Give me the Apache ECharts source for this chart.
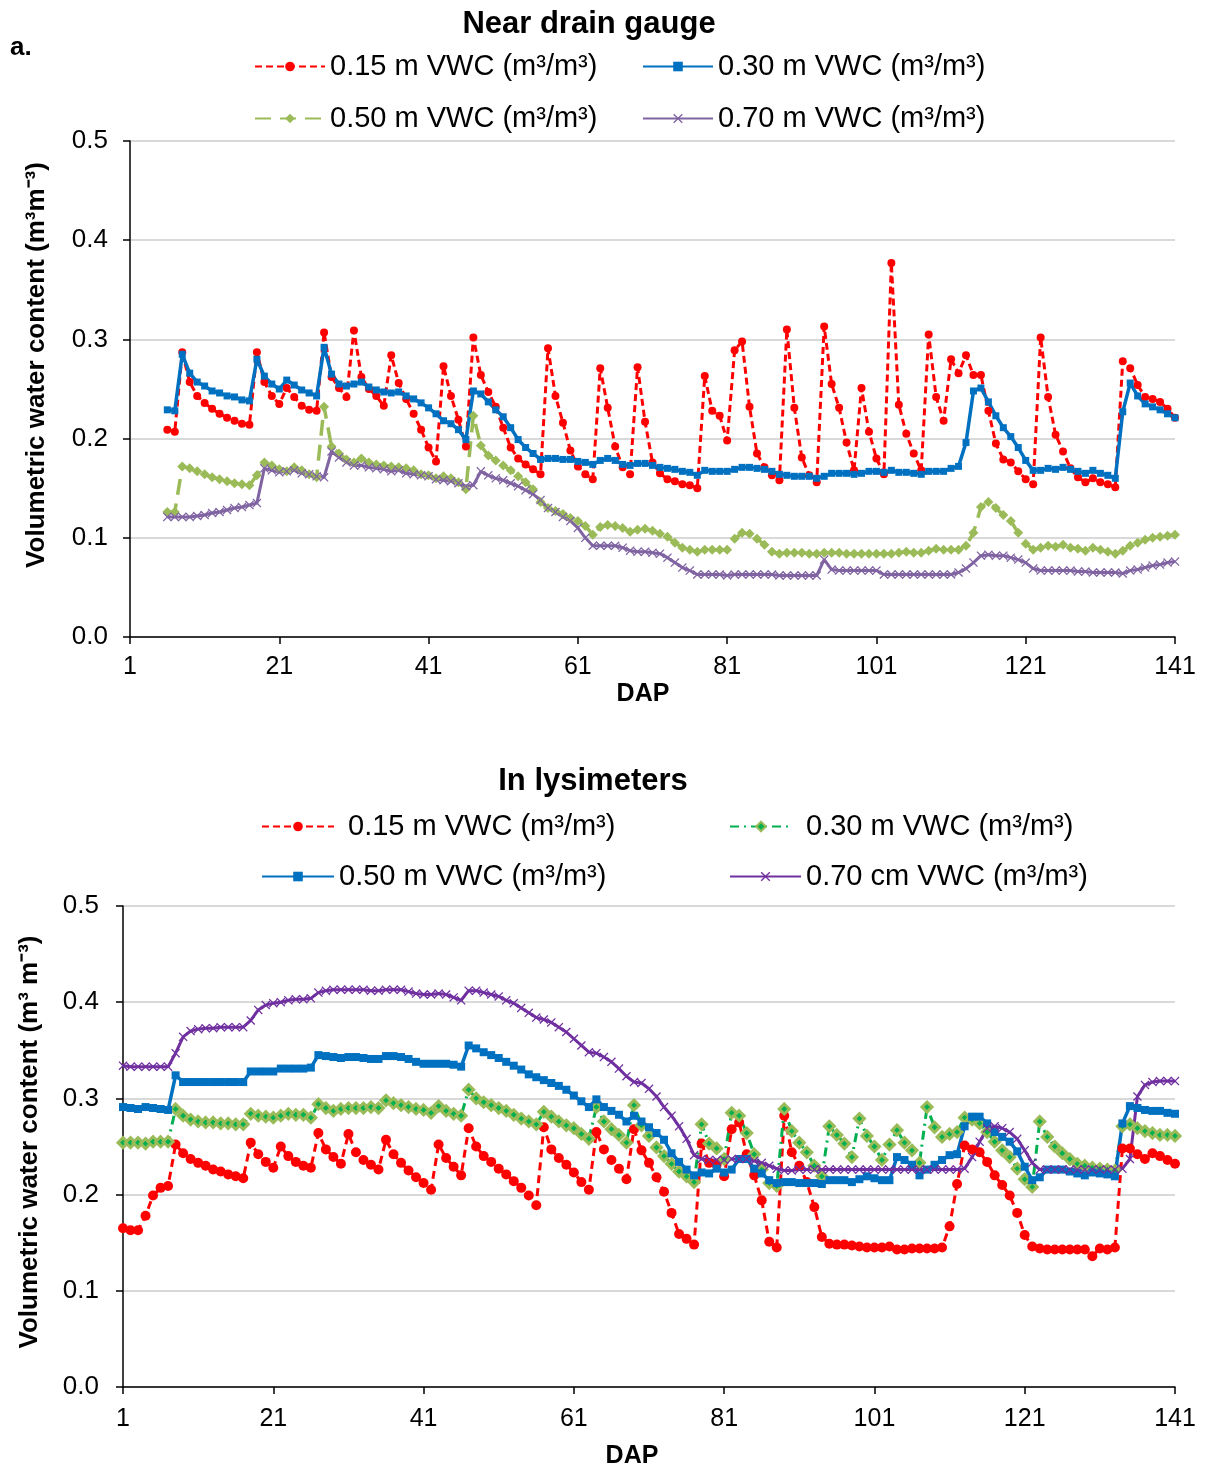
<!DOCTYPE html>
<html>
<head>
<meta charset="utf-8">
<script src="https://cdn.jsdelivr.net/npm/echarts@6/dist/echarts.min.js"></script>
<style>
html,body{margin:0;padding:0;background:#fff;}
#chart{width:1205px;height:1470px;}
</style>
</head>
<body>
<div id="chart"></div>
<script>
// DAP categories 1..141
const days = Array.from({length: 141}, (_, i) => String(i + 1));
const yTicks = [0, 0.1, 0.2, 0.3, 0.4, 0.5];

// ---- Near drain gauge (values for DAP 6 .. 141) ----
const topStartDAP = 6;
const top15 = [0.209,0.207,0.287,0.257,0.243,0.236,0.230,0.225,0.221,0.218,0.215,0.214,0.287,0.257,0.243,0.235,0.251,0.242,0.233,0.229,0.228,0.307,0.262,0.251,0.242,0.309,0.262,0.250,0.243,0.233,0.284,0.256,0.240,0.225,0.209,0.191,0.177,0.273,0.243,0.219,0.192,0.302,0.264,0.247,0.232,0.211,0.191,0.180,0.174,0.169,0.164,0.291,0.243,0.216,0.188,0.172,0.164,0.159,0.271,0.231,0.192,0.171,0.164,0.272,0.217,0.176,0.165,0.159,0.157,0.154,0.153,0.150,0.263,0.228,0.223,0.198,0.289,0.298,0.232,0.185,0.171,0.163,0.158,0.310,0.231,0.181,0.163,0.156,0.313,0.255,0.231,0.196,0.168,0.251,0.207,0.180,0.164,0.377,0.234,0.205,0.185,0.168,0.305,0.242,0.218,0.280,0.266,0.284,0.264,0.264,0.228,0.195,0.179,0.176,0.167,0.159,0.154,0.302,0.242,0.204,0.187,0.170,0.161,0.156,0.160,0.156,0.154,0.151,0.278,0.271,0.254,0.242,0.240,0.237,0.230,0.221];
const top30 = [0.229,0.228,0.285,0.266,0.257,0.253,0.248,0.246,0.243,0.242,0.239,0.238,0.280,0.263,0.255,0.250,0.259,0.254,0.249,0.246,0.243,0.292,0.265,0.255,0.253,0.255,0.257,0.252,0.249,0.247,0.246,0.247,0.243,0.240,0.236,0.231,0.225,0.218,0.215,0.209,0.199,0.248,0.245,0.237,0.229,0.222,0.211,0.199,0.191,0.185,0.179,0.180,0.180,0.179,0.179,0.177,0.176,0.174,0.178,0.180,0.178,0.174,0.173,0.175,0.175,0.173,0.171,0.170,0.169,0.167,0.166,0.163,0.168,0.167,0.167,0.167,0.169,0.171,0.171,0.170,0.169,0.167,0.164,0.163,0.162,0.162,0.162,0.160,0.162,0.165,0.165,0.165,0.164,0.165,0.167,0.167,0.166,0.168,0.166,0.166,0.165,0.164,0.167,0.167,0.167,0.170,0.172,0.196,0.248,0.251,0.237,0.223,0.211,0.202,0.191,0.178,0.168,0.168,0.170,0.169,0.171,0.169,0.167,0.165,0.168,0.165,0.163,0.160,0.227,0.256,0.243,0.235,0.232,0.229,0.225,0.221];
const top50 = [0.126,0.126,0.172,0.170,0.167,0.164,0.161,0.159,0.157,0.155,0.154,0.153,0.163,0.176,0.173,0.169,0.167,0.171,0.168,0.164,0.161,0.232,0.192,0.185,0.179,0.176,0.180,0.176,0.174,0.173,0.172,0.171,0.170,0.168,0.164,0.163,0.160,0.162,0.160,0.156,0.149,0.223,0.193,0.183,0.178,0.173,0.168,0.162,0.156,0.149,0.136,0.130,0.127,0.124,0.120,0.117,0.112,0.103,0.111,0.113,0.112,0.110,0.106,0.108,0.109,0.107,0.104,0.101,0.095,0.090,0.088,0.086,0.088,0.088,0.088,0.088,0.099,0.105,0.104,0.099,0.093,0.086,0.084,0.085,0.085,0.085,0.084,0.084,0.085,0.085,0.085,0.084,0.084,0.084,0.084,0.084,0.084,0.084,0.085,0.086,0.085,0.085,0.087,0.089,0.088,0.088,0.088,0.092,0.105,0.131,0.136,0.130,0.123,0.117,0.105,0.094,0.088,0.090,0.092,0.091,0.093,0.090,0.089,0.087,0.090,0.088,0.086,0.084,0.087,0.092,0.095,0.098,0.100,0.101,0.102,0.103];
const top70 = [0.121,0.121,0.121,0.121,0.122,0.123,0.125,0.126,0.128,0.130,0.131,0.133,0.135,0.170,0.168,0.166,0.167,0.168,0.165,0.164,0.162,0.161,0.187,0.181,0.176,0.173,0.173,0.171,0.170,0.169,0.167,0.168,0.165,0.164,0.163,0.162,0.159,0.158,0.157,0.155,0.152,0.153,0.167,0.163,0.160,0.158,0.155,0.152,0.148,0.144,0.138,0.130,0.126,0.121,0.117,0.110,0.100,0.092,0.092,0.092,0.092,0.090,0.087,0.086,0.086,0.085,0.084,0.080,0.075,0.070,0.067,0.063,0.063,0.063,0.063,0.062,0.063,0.063,0.063,0.063,0.063,0.063,0.062,0.062,0.062,0.062,0.062,0.062,0.078,0.068,0.067,0.067,0.067,0.067,0.067,0.067,0.063,0.063,0.063,0.063,0.063,0.063,0.063,0.063,0.063,0.063,0.065,0.069,0.075,0.082,0.083,0.082,0.082,0.080,0.078,0.075,0.069,0.067,0.067,0.067,0.067,0.067,0.066,0.066,0.065,0.065,0.065,0.065,0.064,0.067,0.068,0.070,0.072,0.073,0.075,0.076];

// ---- In lysimeters (values for DAP 1 .. 141) ----
const lys15 = [0.165,0.163,0.163,0.178,0.199,0.207,0.209,0.252,0.243,0.237,0.233,0.230,0.226,0.224,0.221,0.219,0.217,0.254,0.242,0.234,0.228,0.250,0.240,0.234,0.230,0.228,0.264,0.247,0.239,0.232,0.263,0.244,0.236,0.231,0.226,0.257,0.242,0.233,0.225,0.218,0.212,0.205,0.252,0.238,0.229,0.220,0.269,0.250,0.240,0.234,0.227,0.221,0.214,0.207,0.199,0.189,0.270,0.247,0.238,0.231,0.223,0.213,0.205,0.265,0.247,0.236,0.227,0.216,0.268,0.246,0.233,0.218,0.203,0.181,0.159,0.154,0.148,0.253,0.233,0.231,0.219,0.268,0.275,0.242,0.220,0.194,0.151,0.145,0.282,0.244,0.230,0.213,0.187,0.156,0.149,0.148,0.148,0.147,0.146,0.145,0.145,0.145,0.146,0.143,0.143,0.144,0.144,0.144,0.144,0.145,0.167,0.211,0.251,0.247,0.244,0.234,0.220,0.210,0.199,0.181,0.158,0.146,0.144,0.143,0.143,0.143,0.143,0.143,0.143,0.136,0.144,0.143,0.145,0.248,0.248,0.242,0.237,0.243,0.240,0.236,0.232];
const lys30 = [0.254,0.254,0.254,0.253,0.255,0.255,0.255,0.289,0.282,0.278,0.276,0.275,0.275,0.274,0.274,0.273,0.273,0.284,0.282,0.281,0.280,0.282,0.284,0.283,0.283,0.280,0.294,0.290,0.287,0.289,0.290,0.290,0.290,0.291,0.290,0.298,0.295,0.293,0.291,0.289,0.288,0.285,0.292,0.287,0.284,0.282,0.309,0.300,0.296,0.293,0.290,0.287,0.283,0.279,0.276,0.273,0.286,0.281,0.276,0.272,0.269,0.263,0.258,0.291,0.276,0.268,0.262,0.254,0.293,0.272,0.261,0.249,0.240,0.232,0.224,0.219,0.213,0.273,0.253,0.248,0.237,0.285,0.282,0.264,0.242,0.226,0.212,0.209,0.289,0.266,0.254,0.244,0.230,0.219,0.271,0.262,0.253,0.239,0.279,0.261,0.250,0.236,0.252,0.267,0.254,0.246,0.233,0.291,0.270,0.260,0.263,0.265,0.280,0.278,0.274,0.265,0.255,0.246,0.239,0.227,0.216,0.208,0.276,0.260,0.250,0.243,0.237,0.232,0.230,0.228,0.227,0.226,0.225,0.271,0.273,0.269,0.266,0.264,0.262,0.262,0.261];
const lys50 = [0.291,0.290,0.289,0.291,0.290,0.289,0.288,0.324,0.317,0.317,0.317,0.317,0.317,0.317,0.317,0.317,0.317,0.328,0.328,0.328,0.328,0.331,0.331,0.331,0.331,0.332,0.345,0.344,0.343,0.342,0.343,0.343,0.342,0.341,0.341,0.344,0.344,0.343,0.341,0.338,0.336,0.336,0.336,0.336,0.335,0.333,0.355,0.352,0.348,0.345,0.342,0.338,0.334,0.330,0.325,0.322,0.319,0.316,0.313,0.309,0.303,0.297,0.291,0.299,0.291,0.287,0.283,0.276,0.282,0.276,0.270,0.264,0.257,0.243,0.234,0.226,0.220,0.223,0.222,0.227,0.223,0.226,0.237,0.237,0.227,0.222,0.215,0.212,0.213,0.213,0.212,0.212,0.212,0.211,0.215,0.215,0.215,0.213,0.216,0.219,0.217,0.215,0.215,0.239,0.236,0.231,0.220,0.226,0.231,0.236,0.241,0.242,0.271,0.281,0.281,0.274,0.265,0.260,0.255,0.245,0.229,0.215,0.218,0.226,0.226,0.226,0.224,0.222,0.220,0.223,0.222,0.221,0.219,0.274,0.292,0.290,0.288,0.287,0.287,0.285,0.284];
const lys70 = [0.334,0.333,0.333,0.333,0.333,0.333,0.333,0.347,0.364,0.370,0.372,0.373,0.373,0.374,0.374,0.374,0.374,0.381,0.392,0.397,0.399,0.400,0.402,0.403,0.403,0.404,0.410,0.412,0.413,0.413,0.413,0.413,0.413,0.412,0.412,0.413,0.413,0.413,0.411,0.409,0.408,0.408,0.409,0.408,0.405,0.402,0.412,0.412,0.410,0.408,0.406,0.402,0.399,0.394,0.389,0.384,0.382,0.379,0.374,0.369,0.362,0.355,0.348,0.347,0.343,0.338,0.331,0.323,0.317,0.316,0.310,0.302,0.291,0.282,0.271,0.258,0.241,0.237,0.236,0.236,0.236,0.237,0.237,0.237,0.235,0.233,0.230,0.227,0.225,0.225,0.226,0.226,0.226,0.226,0.226,0.226,0.226,0.226,0.226,0.226,0.226,0.226,0.226,0.226,0.226,0.226,0.226,0.226,0.226,0.226,0.226,0.226,0.227,0.239,0.255,0.269,0.271,0.269,0.265,0.258,0.246,0.233,0.226,0.226,0.226,0.226,0.226,0.226,0.226,0.226,0.226,0.226,0.226,0.227,0.237,0.302,0.314,0.317,0.318,0.318,0.318];

const topNames = ['0.15 m VWC (m³/m³)', '0.30 m VWC (m³/m³)', '0.50 m VWC (m³/m³)', '0.70 m VWC (m³/m³)'];
const lysNames = ['0.15 m VWC (m³/m³)', '0.30 m VWC (m³/m³) ', '0.50 m VWC (m³/m³) ', '0.70 cm VWC (m³/m³)'];

const FONT = '"Liberation Sans", Arial, sans-serif';
const pad = (arr, start) => Array(start - 1).fill(null).concat(arr);
const xSym = 'path://M1,0 L5,4 L9,0 L10,1 L6,5 L10,9 L9,10 L5,6 L1,10 L0,9 L4,5 L0,1 Z';

function xAxisCfg(gridIndex, margin) {
  return {
    type: 'category', gridIndex, data: days, boundaryGap: false,
    axisLine: {lineStyle: {color: '#000', width: 1.5}},
    axisTick: {show: true, interval: 19, length: 7, lineStyle: {color: '#000', width: 1.5}},
    axisLabel: {interval: 19, margin, fontSize: 25, color: '#000', fontFamily: FONT},
    splitLine: {show: false}
  };
}
function yAxisCfg(gridIndex, margin) {
  return {
    type: 'value', gridIndex, min: 0, max: 0.5, interval: 0.1,
    axisLine: {show: true, lineStyle: {color: '#000', width: 1.5}},
    axisTick: {show: true, length: 7, lineStyle: {color: '#000', width: 1.5}},
    axisLabel: {margin, fontSize: 26, color: '#000', fontFamily: FONT, formatter: v => v.toFixed(1)},
    splitLine: {show: true, lineStyle: {color: '#d9d9d9', width: 2}}
  };
}
function legendCfg(name, left, top, itemWidth, extraPad) {
  return {
    data: [name], left, top, padding: 0, itemWidth, itemHeight: 12,
    selectedMode: false,
    textStyle: {fontSize: 29, color: '#000', fontFamily: FONT, padding: [0, 0, 0, extraPad || 0]}
  };
}
function lineSeries(name, axis, data, symbol, size, itemStyle, lineStyle) {
  return {name, type: 'line', xAxisIndex: axis, yAxisIndex: axis, data,
    symbol, symbolSize: size, showSymbol: true, showAllSymbol: true,
    itemStyle, lineStyle, emphasis: {disabled: true}};
}

const option = {
  animation: false,
  backgroundColor: '#fff',
  grid: [
    {left: 130, right: 30, top: 141, height: 496},
    {left: 123, right: 30, top: 906, height: 481}
  ],
  xAxis: [xAxisCfg(0, 18), xAxisCfg(1, 20)],
  yAxis: [yAxisCfg(0, 22), yAxisCfg(1, 24)],
  legend: [
    legendCfg(topNames[0], 254, 52, 70),
    legendCfg(topNames[1], 642, 52, 70),
    legendCfg(topNames[2], 254, 104, 70),
    legendCfg(topNames[3], 642, 104, 70),
    legendCfg(lysNames[0], 261, 812, 72, 9),
    legendCfg(lysNames[1], 729, 812, 62, 9),
    legendCfg(lysNames[2], 261, 862, 72),
    legendCfg(lysNames[3], 729, 862, 71)
  ],
  series: [
    lineSeries(topNames[0], 0, pad(top15, topStartDAP), 'circle', 8, {color: '#FF0000'}, {color: '#FF0000', width: 3, type: [7, 4]}),
    lineSeries(topNames[1], 0, pad(top30, topStartDAP), 'rect', 7, {color: '#0070C0'}, {color: '#0070C0', width: 3.5}),
    lineSeries(topNames[2], 0, pad(top50, topStartDAP), 'diamond', 10, {color: '#9BBB59'}, {color: '#9BBB59', width: 3.5, type: [16, 9]}),
    lineSeries(topNames[3], 0, pad(top70, topStartDAP), xSym, 9, {color: '#8064A2'}, {color: '#8064A2', width: 3}),
    lineSeries(lysNames[0], 1, lys15, 'circle', 10, {color: '#FF0000'}, {color: '#FF0000', width: 3, type: [8, 5]}),
    lineSeries(lysNames[1], 1, lys30, 'diamond', 10, {color: '#00B050', borderColor: '#9BBB59', borderWidth: 3}, {color: '#00B050', width: 3, type: [9, 5, 2, 5]}),
    lineSeries(lysNames[2], 1, lys50, 'rect', 8, {color: '#0070C0'}, {color: '#0070C0', width: 3.5}),
    lineSeries(lysNames[3], 1, lys70, xSym, 9, {color: '#7030A0'}, {color: '#7030A0', width: 3})
  ],
  graphic: [
    {type: 'text', x: 589, y: 24, style: {text: 'Near drain gauge', fontSize: 31, fontWeight: 'bold', fontFamily: FONT, fill: '#000', textAlign: 'center', textVerticalAlign: 'middle'}},
    {type: 'text', x: 10, y: 48, style: {text: 'a.', fontSize: 26, fontWeight: 'bold', fontFamily: FONT, fill: '#000', textAlign: 'left', textVerticalAlign: 'middle'}},
    {type: 'text', x: 37, y: 365, rotation: Math.PI / 2, style: {text: 'Volumetric water content (m³m⁻³)', fontSize: 26, fontWeight: 'bold', fontFamily: FONT, fill: '#000', textAlign: 'center', textVerticalAlign: 'middle'}},
    {type: 'text', x: 643, y: 694, style: {text: 'DAP', fontSize: 25, fontWeight: 'bold', fontFamily: FONT, fill: '#000', textAlign: 'center', textVerticalAlign: 'middle'}},
    {type: 'text', x: 593, y: 781, style: {text: 'In lysimeters', fontSize: 31, fontWeight: 'bold', fontFamily: FONT, fill: '#000', textAlign: 'center', textVerticalAlign: 'middle'}},
    {type: 'text', x: 30, y: 1142, rotation: Math.PI / 2, style: {text: 'Volumetric water content (m³ m⁻³)', fontSize: 26, fontWeight: 'bold', fontFamily: FONT, fill: '#000', textAlign: 'center', textVerticalAlign: 'middle'}},
    {type: 'text', x: 632, y: 1456, style: {text: 'DAP', fontSize: 25, fontWeight: 'bold', fontFamily: FONT, fill: '#000', textAlign: 'center', textVerticalAlign: 'middle'}}
  ]
};

const chart = echarts.init(document.getElementById('chart'), null, {renderer: 'canvas'});
chart.setOption(option);
</script>
</body>
</html>
